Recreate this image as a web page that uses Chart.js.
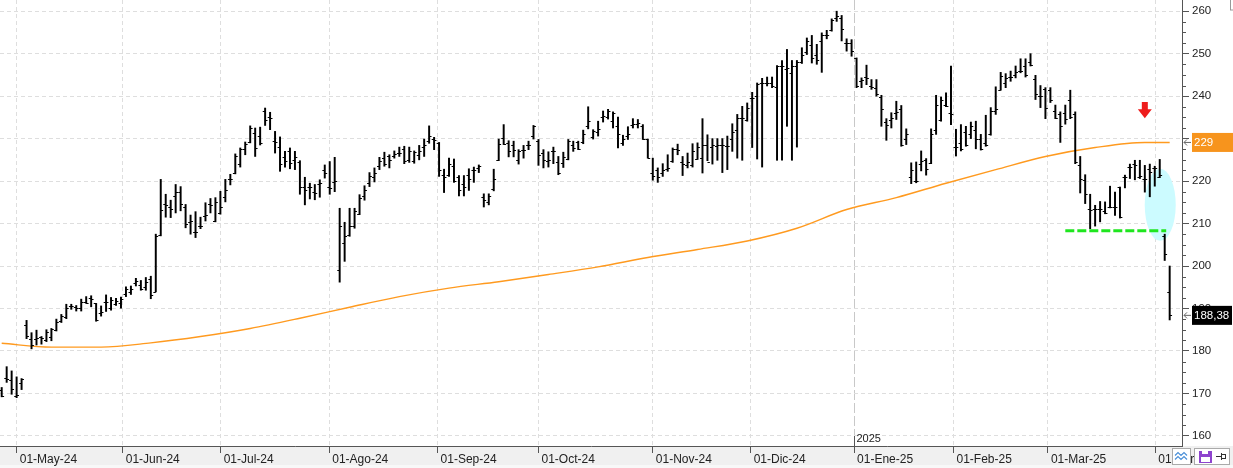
<!DOCTYPE html>
<html>
<head>
<meta charset="utf-8">
<script src="https://cdn.jsdelivr.net/npm/chart.js@4.4.1/dist/chart.umd.min.js"></script>
<style>
    html, body { margin: 0; padding: 0; background: #fff; }
    #wrap { width: 1233px; height: 468px; }
</style>
</head>
<body>
<div id="wrap"><canvas id="chart" width="1233" height="468"></canvas></div>
<script>
// DAILY BARS (one entry per session, May-24 .. 01-Apr-25)
const opens = [
    170.8, 173.6, 173.1, 169.3, 172.4, 186.0, 182.7, 182.7, 183.2, 182.5,
    183.3, 185.0, 187.0, 188.0, 190.5, 190.3, 190.0, 191.6, 192.5, 191.2,
    189.0, 191.6, 190.0, 191.0, 191.3, 193.3, 194.0, 196.0, 195.5, 195.0,
    197.0, 194.0, 207.4, 214.5, 214.0, 216.5, 217.5, 214.0, 210.4, 208.0,
    209.4, 211.8, 214.5, 210.5, 212.5, 216.3, 220.4, 221.8, 224.0, 227.5,
    229.2, 231.3, 230.5, 236.4, 235.0, 229.5, 228.0, 225.6, 227.2, 225.0,
    224.5, 218.5, 218.6, 217.5, 219.2, 222.5, 218.5, 219.8, 199.1, 205.5,
    207.2, 209.4, 212.3, 216.5, 219.5, 221.0, 223.5, 225.5, 225.8, 226.0,
    226.7, 227.5, 225.0, 224.8, 226.2, 228.0, 229.5, 230.0, 229.0, 221.4,
    221.4, 223.6, 221.0, 219.2, 221.5, 222.7, 223.0, 216.2, 215.0, 218.2,
    225.0, 230.2, 229.0, 228.4, 225.0, 227.4, 228.4, 230.5, 229.5, 226.5,
    224.8, 227.0, 224.5, 224.2, 225.3, 228.5, 229.2, 229.2, 233.0, 230.4,
    231.5, 235.0, 235.0, 234.1, 233.0, 229.0, 230.5, 233.3, 233.5, 233.0,
    229.9, 222.0, 222.5, 222.0, 222.8, 224.8, 227.6, 224.5, 223.8, 223.9,
    225.2, 225.5, 228.4, 228.0, 228.2, 228.5, 228.3, 230.0, 232.0, 234.8,
    234.5, 239.5, 240.0, 243.0, 243.2, 243.1, 242.1, 247.0, 246.5, 245.5,
    247.1, 248.0, 250.3, 252.0, 249.8, 253.0, 254.5, 255.5, 258.5, 258.5,
    252.5, 252.4, 249.0, 243.5, 244.6, 242.5, 242.0, 239.8, 234.0, 234.5,
    236.0, 237.0, 230.0, 221.0, 220.0, 224.0, 225.0, 224.3, 232.0, 234.3,
    238.0, 236.0, 228.0, 229.0, 231.5, 231.0, 232.0, 230.0, 229.0, 231.0,
    236.5, 241.5, 243.0, 244.5, 245.0, 246.0, 247.0, 248.0, 244.0, 240.0,
    241.8, 241.5, 236.5, 235.9, 236.0, 239.0, 235.9, 223.7, 220.2, 213.5,
    213.5, 213.5, 213.0, 213.8, 213.8, 218.6, 220.9, 223.4, 224.0, 221.0,
    220.5, 222.8, 223.0, 221.0, 207.0, 194.0
];
const highs = [
    171.4, 176.3, 175.3, 173.9, 173.5, 187.2, 184.3, 184.9, 183.4, 185.0,
    185.3, 187.5, 188.6, 191.0, 191.0, 190.7, 192.2, 192.8, 193.0, 191.2,
    190.6, 193.2, 192.6, 192.4, 192.7, 195.1, 195.3, 197.1, 196.6, 197.3,
    197.6, 207.5, 220.4, 216.9, 215.5, 219.2, 218.7, 214.5, 212.0, 212.8,
    211.5, 214.9, 215.9, 216.1, 217.6, 220.4, 221.6, 226.4, 227.8, 229.2,
    233.0, 232.5, 232.7, 237.2, 236.2, 231.7, 230.4, 227.0, 227.8, 227.0,
    224.8, 220.9, 219.5, 219.2, 220.3, 223.8, 224.6, 225.6, 213.6, 210.3,
    213.6, 213.6, 216.8, 218.9, 222.0, 223.1, 225.6, 226.8, 226.2, 227.1,
    228.0, 228.2, 228.0, 227.1, 228.4, 229.9, 233.0, 230.3, 229.1, 222.8,
    225.4, 225.2, 221.3, 221.3, 222.9, 223.3, 223.8, 217.0, 217.0, 222.8,
    229.9, 233.3, 229.5, 229.4, 227.4, 228.4, 229.4, 233.1, 229.8, 227.4,
    226.9, 228.0, 225.8, 226.8, 229.8, 229.4, 229.4, 232.0, 237.5, 232.1,
    234.1, 236.5, 236.9, 236.3, 235.1, 230.8, 232.8, 234.7, 234.5, 233.3,
    229.9, 225.4, 223.1, 224.1, 226.2, 227.8, 228.7, 225.8, 226.6, 228.8,
    229.0, 234.7, 230.9, 230.0, 230.0, 230.0, 230.6, 233.5, 235.7, 237.6,
    238.4, 240.9, 243.1, 244.2, 244.5, 244.5, 247.2, 248.4, 251.0, 248.4,
    248.4, 251.4, 253.7, 254.3, 252.2, 254.9, 255.5, 258.2, 260.0, 259.0,
    253.5, 253.3, 249.0, 244.3, 247.3, 243.9, 243.9, 240.2, 234.7, 236.1,
    238.8, 237.8, 232.3, 224.3, 224.5, 227.1, 225.3, 232.3, 240.2, 239.8,
    240.8, 247.1, 232.2, 233.3, 232.9, 233.9, 234.1, 231.0, 235.5, 237.3,
    242.2, 245.6, 245.3, 245.9, 247.1, 248.8, 248.8, 250.0, 244.9, 242.5,
    242.0, 242.0, 237.9, 236.3, 237.9, 241.4, 236.3, 225.8, 221.5, 216.9,
    214.3, 215.2, 215.1, 218.8, 217.4, 218.6, 221.4, 224.0, 224.9, 224.9,
    223.7, 224.0, 223.5, 225.1, 207.5, 200.0
];
const lows = [
    169.2, 172.6, 169.8, 169.0, 170.9, 182.9, 180.5, 181.4, 181.6, 182.2,
    182.4, 184.7, 186.7, 187.6, 189.8, 189.4, 189.4, 191.2, 190.4, 187.0,
    188.2, 189.3, 189.6, 190.7, 190.1, 192.8, 193.3, 195.3, 194.3, 194.3,
    192.3, 193.9, 207.1, 211.5, 211.4, 212.5, 213.0, 209.0, 207.5, 206.7,
    208.8, 210.6, 212.5, 210.4, 212.2, 215.1, 219.1, 221.7, 223.3, 226.2,
    229.0, 225.8, 228.5, 233.1, 232.1, 226.6, 222.3, 223.3, 222.9, 222.7,
    216.9, 214.4, 215.8, 215.6, 216.2, 220.7, 216.9, 217.5, 196.2, 201.1,
    207.0, 208.9, 212.1, 215.5, 218.7, 219.8, 222.7, 223.5, 223.1, 225.4,
    225.8, 224.1, 224.4, 224.2, 225.0, 225.8, 228.9, 227.4, 221.1, 217.3,
    221.1, 219.7, 216.5, 216.5, 217.8, 219.7, 222.0, 213.9, 214.4, 217.7,
    224.8, 228.6, 225.7, 225.7, 224.0, 225.4, 227.4, 229.9, 223.7, 223.1,
    223.3, 224.1, 221.5, 223.2, 225.0, 227.0, 227.4, 228.8, 232.3, 229.9,
    230.6, 233.9, 234.6, 232.5, 227.8, 228.4, 229.8, 232.5, 232.5, 229.8,
    225.4, 220.2, 219.7, 221.1, 222.3, 224.4, 226.2, 221.3, 223.1, 223.3,
    225.1, 221.9, 224.8, 224.0, 224.9, 222.0, 222.7, 227.0, 225.4, 224.9,
    234.1, 227.9, 225.2, 223.3, 242.4, 242.0, 224.9, 224.9, 232.9, 224.9,
    228.0, 247.7, 249.8, 247.8, 247.5, 245.6, 253.5, 255.3, 257.6, 253.0,
    250.6, 249.4, 242.0, 242.0, 242.7, 241.6, 240.0, 232.9, 229.6, 232.5,
    234.5, 228.2, 228.6, 219.4, 219.6, 222.4, 221.4, 224.1, 231.0, 234.1,
    237.5, 233.3, 225.9, 227.1, 228.2, 230.0, 227.6, 227.3, 228.2, 230.8,
    235.7, 241.4, 242.0, 243.5, 244.3, 245.5, 244.5, 247.1, 239.2, 237.3,
    234.7, 238.5, 234.7, 229.1, 233.4, 234.7, 224.1, 217.2, 214.7, 208.8,
    209.4, 210.4, 212.3, 213.7, 211.9, 211.3, 218.4, 220.6, 220.3, 220.6,
    217.4, 216.3, 218.8, 220.8, 201.3, 187.3
];
const closes = [
    169.5, 173.5, 171.0, 169.7, 173.3, 183.5, 181.5, 183.0, 183.0, 184.5,
    185.1, 186.8, 188.2, 190.0, 190.5, 190.0, 191.5, 191.4, 192.2, 187.3,
    189.2, 191.5, 192.0, 191.8, 192.3, 194.6, 194.5, 196.5, 194.7, 196.3,
    193.2, 207.0, 213.2, 214.3, 213.5, 217.5, 214.5, 209.8, 210.5, 208.1,
    209.5, 212.0, 214.4, 215.0, 214.0, 218.0, 220.5, 226.0, 227.6, 228.8,
    232.5, 227.8, 229.0, 234.4, 234.8, 229.3, 224.0, 224.8, 224.2, 225.6,
    218.5, 217.8, 218.7, 217.1, 219.5, 222.0, 218.4, 220.0, 209.5, 207.0,
    209.5, 213.0, 216.0, 218.0, 221.3, 222.0, 224.7, 224.0, 225.0, 226.3,
    226.6, 224.8, 227.0, 226.8, 227.0, 228.5, 230.5, 229.6, 222.7, 221.0,
    224.0, 220.0, 218.0, 218.5, 220.5, 222.5, 223.5, 215.5, 216.5, 220.5,
    228.8, 228.8, 227.0, 227.4, 227.0, 227.4, 228.6, 233.0, 226.2, 225.0,
    225.0, 227.0, 222.0, 225.6, 229.5, 227.8, 227.6, 231.2, 234.1, 231.7,
    232.3, 235.3, 236.5, 236.0, 231.0, 229.9, 231.2, 233.5, 233.6, 229.9,
    225.5, 221.2, 221.0, 222.5, 223.0, 227.5, 227.4, 224.0, 224.5, 227.0,
    228.0, 228.5, 224.5, 228.4, 228.4, 228.4, 228.2, 231.5, 234.9, 234.9,
    237.2, 239.6, 242.9, 243.0, 243.1, 242.4, 247.0, 247.0, 246.6, 247.0,
    248.0, 249.8, 253.0, 249.0, 248.5, 254.5, 254.5, 258.0, 258.8, 255.8,
    252.4, 250.6, 242.5, 243.7, 244.3, 242.2, 240.5, 236.9, 233.3, 234.9,
    236.2, 228.4, 231.0, 222.7, 220.0, 224.7, 222.9, 231.0, 238.0, 239.0,
    237.7, 235.9, 228.0, 227.5, 228.5, 233.0, 230.0, 227.5, 228.5, 236.5,
    237.0, 244.7, 244.3, 244.6, 245.6, 246.0, 245.0, 247.3, 240.4, 240.0,
    237.3, 239.0, 234.8, 233.0, 234.7, 235.0, 224.5, 220.6, 217.0, 213.2,
    213.5, 213.5, 212.5, 213.8, 214.0, 211.5, 220.9, 223.4, 223.8, 221.3,
    220.6, 222.2, 223.0, 221.5, 202.9, 188.38
];

// 200-session moving average, read at every 10th bar
const maIndex = [0, 10, 20, 30, 40, 50, 60, 70, 80, 90, 100, 110, 120,
                 130, 140, 150, 160, 170, 180, 190, 200, 210, 220, 230, 235];
const maValues = [181.8, 180.9, 180.9, 181.9, 183.4, 185.3, 187.7, 190.3, 192.8,
                  194.8, 196.3, 198.0, 199.8, 202.0, 203.9, 205.9, 208.9, 213.3,
                  216.1, 219.5, 222.7, 225.8, 227.9, 229.1, 229.1];

// Axis ticks
const monthPos = [3.02, 24.35, 44.06, 65.9, 87.7, 108, 131, 150.7, 171.5, 191.5, 210.5, 232.1];
const monthLabels = ['01-May-24', '01-Jun-24', '01-Jul-24', '01-Ago-24', '01-Sep-24', '01-Oct-24',
                     '01-Nov-24', '01-Dic-24', '01-Ene-25', '01-Feb-25', '01-Mar-25', '01-Abr-25'];
const yearPos = 171.5;
const yearLabel = '2025';
const yTicks = [160, 170, 180, 190, 200, 210, 220, 230, 240, 250, 260];

// Annotations drawn on the chart
const supportLevel = 208.3;
const supportRange = [214, 234.3];
const arrowAt = { index: 230, top: 238.6, tip: 234.8 };
const ellipseAt = { index: 233.1, value: 214.4 };

const FONT = "'Liberation Sans', Arial, sans-serif";
const ORANGE = '#f7941d';

const overlay = {
    id: 'overlay',
    beforeDraw(chart) {
        // grey date band under the plot
        const { ctx, chartArea } = chart;
        ctx.save();
        ctx.fillStyle = '#f0f0f0';
        ctx.fillRect(0, chartArea.bottom, chart.width, 19);
        ctx.fillStyle = '#f8f8f8';
        ctx.fillRect(0, chartArea.bottom + 19, chart.width, chart.height);
        ctx.restore();
    },
    beforeDatasetsDraw(chart) {
        // cyan highlight ellipse
        const { ctx, scales: { x, y } } = chart;
        ctx.save();
        ctx.fillStyle = '#ccfbff';
        ctx.beginPath();
        ctx.ellipse(x.getPixelForValue(ellipseAt.index), y.getPixelForValue(ellipseAt.value), 15.5, 36, 0, 0, Math.PI * 2);
        ctx.fill();
        ctx.restore();
    },
    afterDatasetsDraw(chart) {
        const { ctx, scales: { x, y } } = chart;
        ctx.save();
        // open (left) / close (right) ticks
        ctx.strokeStyle = '#000';
        ctx.lineWidth = 1;
        ctx.beginPath();
        opens.forEach((o, i) => {
            const px = x.getPixelForValue(i);
            const po = Math.round(y.getPixelForValue(o)) + 0.5;
            const pc = Math.round(y.getPixelForValue(closes[i])) + 0.5;
            ctx.moveTo(px - 2.4, po); ctx.lineTo(px, po);
            ctx.moveTo(px, pc); ctx.lineTo(px + 2.4, pc);
        });
        ctx.stroke();

        // green dashed support
        const sy = y.getPixelForValue(supportLevel);
        ctx.strokeStyle = '#1fe61f';
        ctx.lineWidth = 3;
        ctx.setLineDash([9, 3]);
        ctx.beginPath();
        ctx.moveTo(x.getPixelForValue(supportRange[0]), sy);
        ctx.lineTo(x.getPixelForValue(supportRange[1]), sy);
        ctx.stroke();
        ctx.setLineDash([]);

        // red down arrow
        const ax = x.getPixelForValue(arrowAt.index);
        const at = y.getPixelForValue(arrowAt.top);
        const ab = y.getPixelForValue(arrowAt.tip);
        const mid = at + (ab - at) * 0.45;
        ctx.fillStyle = '#ee1c1c';
        ctx.beginPath();
        ctx.moveTo(ax - 3, at); ctx.lineTo(ax + 3, at); ctx.lineTo(ax + 3, mid);
        ctx.lineTo(ax + 7, mid); ctx.lineTo(ax, ab); ctx.lineTo(ax - 7, mid);
        ctx.lineTo(ax - 3, mid); ctx.closePath();
        ctx.fill();
        ctx.restore();
    },
    afterDraw(chart) {
        const { ctx, chartArea, scales: { x, y } } = chart;
        const axisX = chartArea.right;
        ctx.save();

        // minor ticks on the price axis
        ctx.strokeStyle = '#555';
        ctx.lineWidth = 1;
        ctx.beginPath();
        for (let v = 162.5; v < 260; v += 2.5) {
            if (v % 10 === 0) continue;
            const py = Math.round(y.getPixelForValue(v)) + 0.5;
            ctx.moveTo(axisX, py); ctx.lineTo(axisX + 4, py);
        }
        ctx.stroke();

        // year marker
        const yx = Math.round(x.getPixelForValue(yearPos)) + 0.5;
        ctx.beginPath();
        ctx.moveTo(yx, chartArea.bottom - 10); ctx.lineTo(yx, chartArea.bottom);
        ctx.stroke();
        ctx.fillStyle = '#222';
        ctx.font = '11px ' + FONT;
        ctx.textBaseline = 'middle';
        ctx.fillText(yearLabel, yx + 2, chartArea.bottom - 7);

        // value flags on the price axis
        const flag = (value, text, bg, w) => {
            const py = y.getPixelForValue(value);
            ctx.fillStyle = bg;
            ctx.fillRect(axisX + 10, py - 9.5, w, 19);
            ctx.fillStyle = '#fff';
            ctx.font = '11.5px ' + FONT;
            ctx.textBaseline = 'middle';
            ctx.fillText(text, axisX + 12, py + 0.5);
            ctx.strokeStyle = '#666';
            ctx.lineWidth = 1;
            ctx.beginPath();
            ctx.moveTo(axisX + 2, py); ctx.lineTo(axisX + 9, py);
            ctx.moveTo(axisX + 5, py - 3); ctx.lineTo(axisX + 2, py); ctx.lineTo(axisX + 5, py + 3);
            ctx.stroke();
        };
        const lastMa = maValues[maValues.length - 1];
        const lastClose = closes[closes.length - 1];
        flag(lastMa, String(Math.round(lastMa)), ORANGE, 41);
        ctx.font = '11.5px ' + FONT;
        const closeText = lastClose.toFixed(2).replace('.', ',');
        flag(lastClose, closeText, '#000', Math.ceil(ctx.measureText(closeText).width) + 4);

        // small toolbar buttons bottom right
        ctx.fillStyle = '#fff';
        ctx.strokeStyle = '#aaa';
        ctx.fillRect(1172.5, 448.5, 18, 16); ctx.strokeRect(1172.5, 448.5, 18, 16);
        ctx.fillRect(1194.5, 448.5, 35, 16); ctx.strokeRect(1194.5, 448.5, 35, 16);
        ctx.strokeStyle = '#4a8fd8';
        ctx.lineWidth = 1.2;
        [453.5, 457.5].forEach(zy => {
            ctx.beginPath();
            ctx.moveTo(1175, zy + 2); ctx.lineTo(1178, zy - 1); ctx.lineTo(1181, zy + 2);
            ctx.lineTo(1184, zy - 1); ctx.lineTo(1187, zy + 2);
            ctx.stroke();
        });
        ctx.fillStyle = '#8e44ce';
        ctx.fillRect(1199, 451, 13, 12);
        ctx.fillStyle = '#fff';
        ctx.fillRect(1201, 457, 9, 5);
        ctx.fillRect(1202, 451, 6, 3);
        ctx.strokeStyle = '#333';
        ctx.lineWidth = 1;
        ctx.beginPath();
        ctx.moveTo(1216, 456.5); ctx.lineTo(1221, 456.5);
        ctx.moveTo(1221.5, 453); ctx.lineTo(1221.5, 460);
        ctx.stroke();
        ctx.strokeRect(1221.5, 454.5, 4, 4);

        // corner of the frame at the top right
        ctx.strokeStyle = '#999';
        ctx.strokeRect(1230.5, -1, 5, 11);
        ctx.restore();
    }
};

const ctx = document.getElementById('chart').getContext('2d');
new Chart(ctx, {
    type: 'bar',
    data: {
        datasets: [
            {
                type: 'line',
                label: 'Media 200',
                data: maIndex.map((v, i) => ({ x: v, y: maValues[i] })),
                borderColor: '#ff9a1f',
                borderWidth: 1.4,
                pointRadius: 0,
                cubicInterpolationMode: 'monotone',
                order: 1
            },
            {
                type: 'bar',
                label: 'Rango',
                data: highs.map((h, i) => ({ x: i, y: [lows[i], h] })),
                backgroundColor: '#000',
                barThickness: 1.3,
                order: 0
            }
        ]
    },
    options: {
        responsive: false,
        animation: false,
        events: [],
        layout: { padding: 0 },
        plugins: { legend: { display: false }, tooltip: { enabled: false } },
        scales: {
            x: {
                type: 'linear',
                min: -0.342,
                max: 237.48,
                offset: false,
                afterBuildTicks: scale => { scale.ticks = monthPos.map(v => ({ value: v })); },
                afterFit: scale => { scale.height = 22; scale.paddingLeft = 0; scale.paddingRight = 0; },
                grid: {
                    offset: false,
                    color: c => (c.tick && c.tick.value === yearPos) ? '#c8c8c8' : '#dedede',
                    tickColor: '#555',
                    tickLength: 7
                },
                border: {
                    display: true,
                    color: '#555',
                    dash: c => (c.tick && c.tick.value === yearPos) ? [10, 3] : [4, 3]
                },
                ticks: {
                    autoSkip: false,
                    maxRotation: 0,
                    align: 'start',
                    labelOffset: 3,
                    padding: -1,
                    color: '#222',
                    font: { family: FONT, size: 12 },
                    callback: (v, i) => monthLabels[i]
                }
            },
            y: {
                position: 'right',
                min: 157.62,
                max: 262.64,
                afterBuildTicks: scale => { scale.ticks = yTicks.map(v => ({ value: v })); },
                afterFit: scale => { scale.width = 51; scale.paddingTop = 0; scale.paddingBottom = 0; },
                grid: { color: '#dedede', tickColor: '#555', tickLength: 7 },
                border: { display: true, color: '#555', dash: [4, 3] },
                ticks: {
                    padding: 3,
                    color: '#222',
                    font: { family: FONT, size: 11.5 },
                    callback: v => String(v)
                }
            }
        }
    },
    plugins: [overlay]
});
</script>
</body>
</html>
